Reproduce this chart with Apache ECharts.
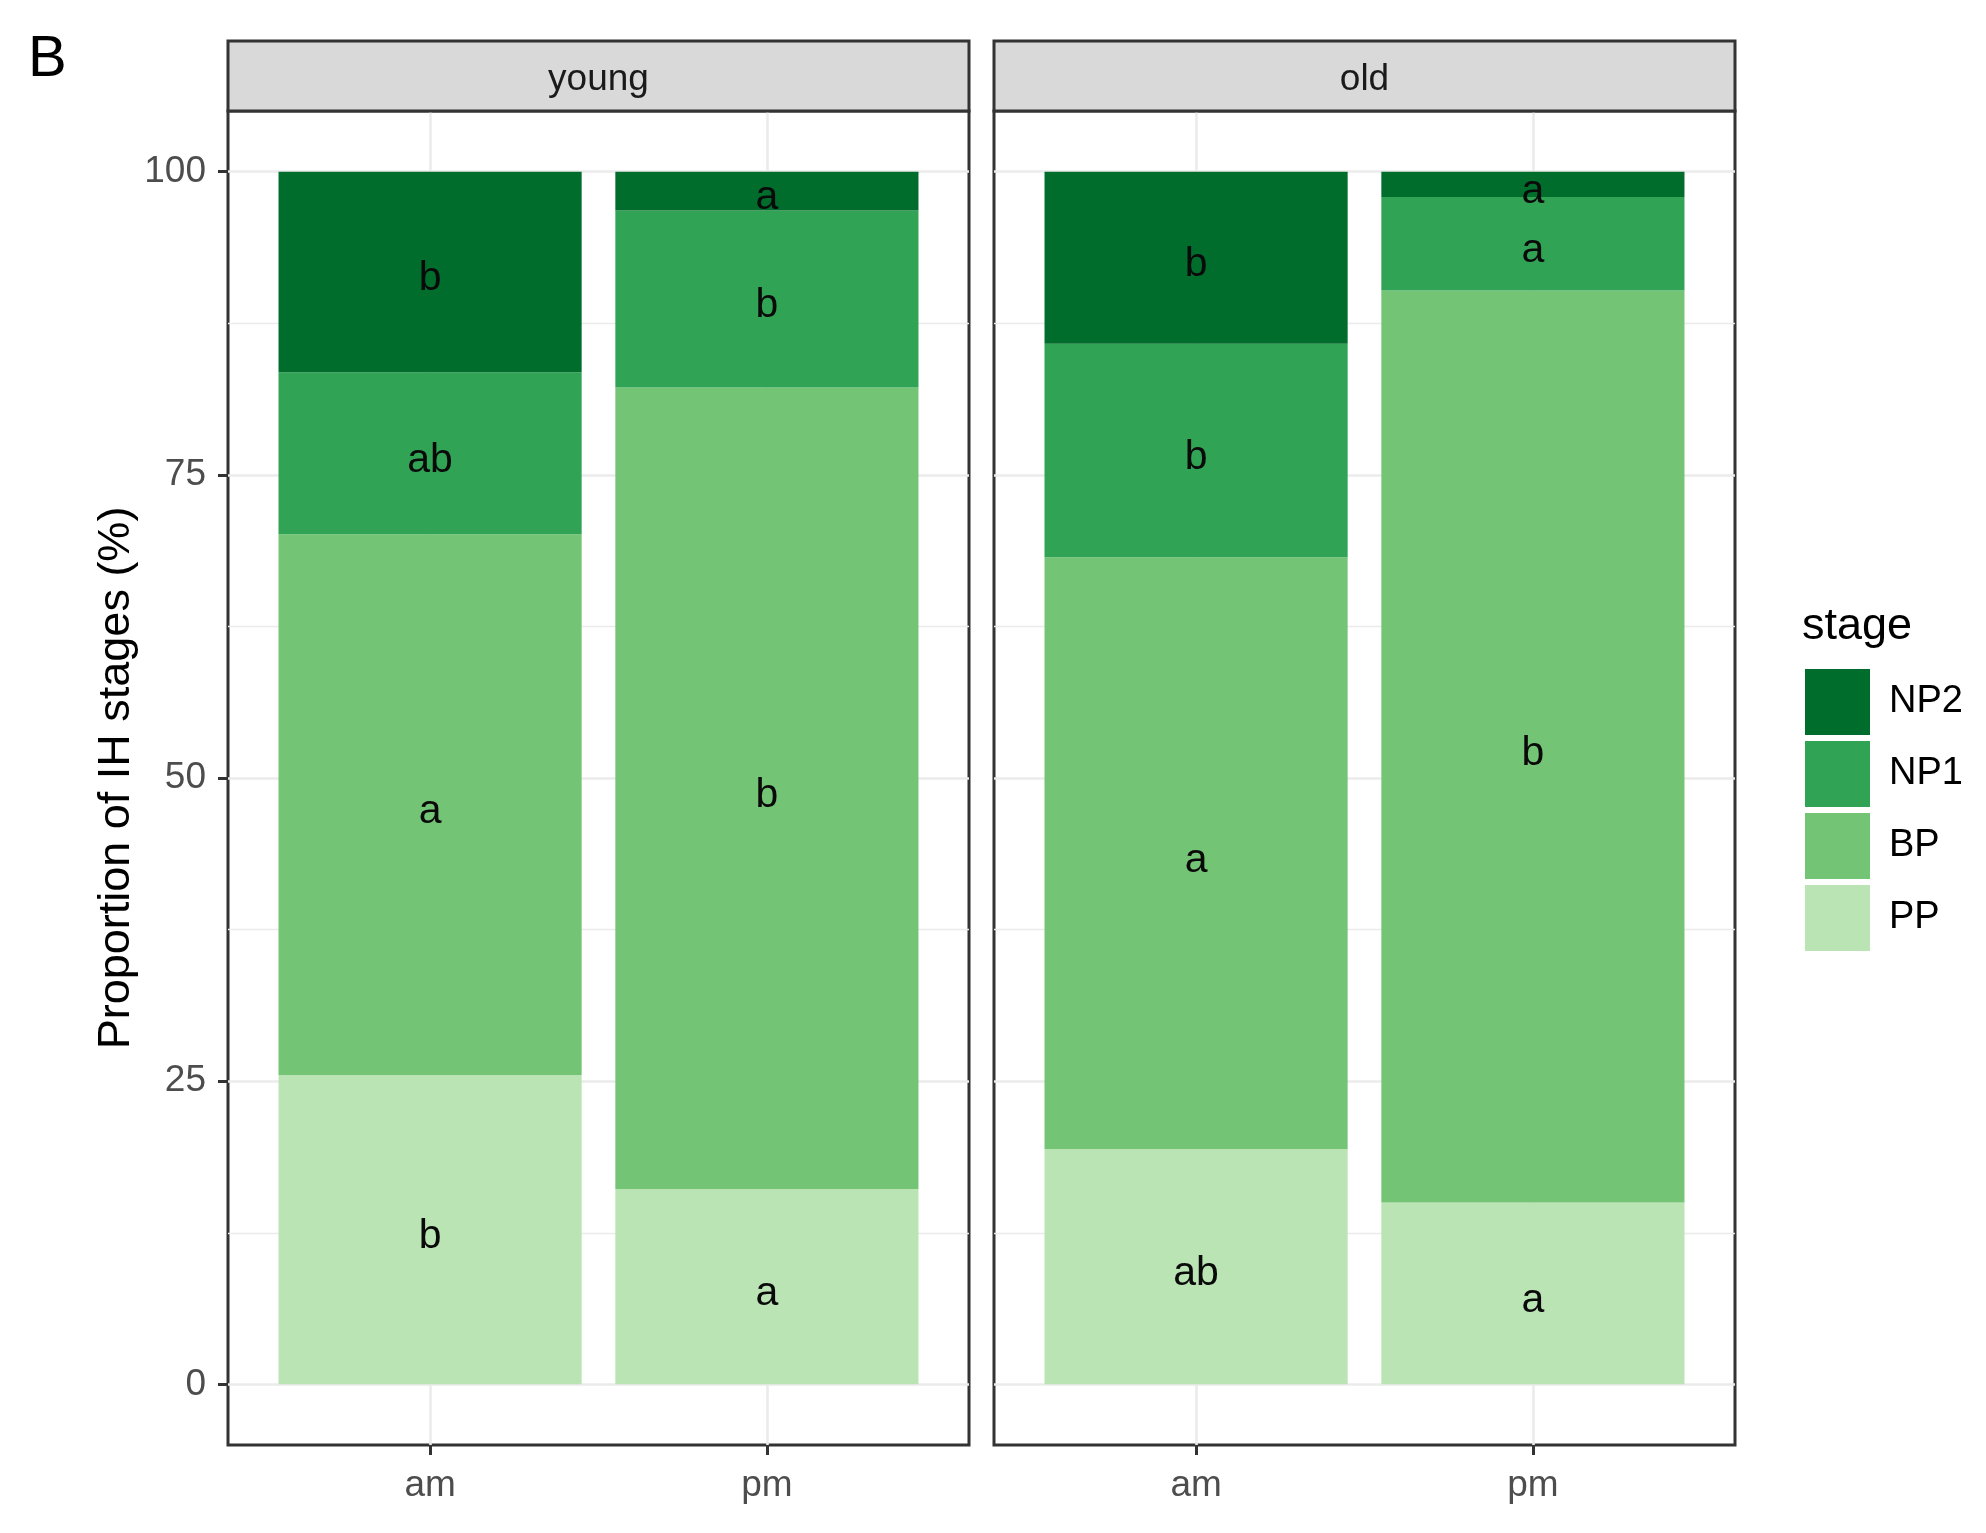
<!DOCTYPE html>
<html>
<head>
<meta charset="utf-8">
<script src="https://cdn.jsdelivr.net/npm/echarts@6/dist/echarts.min.js"></script>
<style>
html,body{margin:0;padding:0;background:#fff;}
#chart{width:1986px;height:1533px;}
</style>
</head>
<body>
<div id="chart"></div>
<script>
// ---- data ----
const categories = ['am', 'pm'];
const panels = ['young', 'old'];
const stages = ['PP', 'BP', 'NP1', 'NP2'];
const legendOrder = ['NP2', 'NP1', 'BP', 'PP'];
const stageColors = ['#bae4b3', '#74c476', '#31a354', '#006d2c'];

const young_PP  = [25.5, 16.1];
const young_BP  = [44.6, 66.1];
const young_NP1 = [13.35, 14.6];
const young_NP2 = [16.55, 3.2];
const old_PP  = [19.4, 15.0];
const old_BP  = [48.8, 75.2];
const old_NP1 = [17.6, 7.7];
const old_NP2 = [14.2, 2.1];

const young_PP_letters  = ['b', 'a'];
const young_BP_letters  = ['a', 'b'];
const young_NP1_letters = ['ab', 'b'];
const young_NP2_letters = ['b', 'a'];
const old_PP_letters  = ['ab', 'a'];
const old_BP_letters  = ['a', 'b'];
const old_NP1_letters = ['b', 'a'];
const old_NP2_letters = ['b', 'a'];

const yTicks = [0, 25, 50, 75, 100];
const yMinorTicks = [12.5, 37.5, 62.5, 87.5];

const panelValues = [
  [young_PP, young_BP, young_NP1, young_NP2],
  [old_PP, old_BP, old_NP1, old_NP2]
];
const panelLetters = [
  [young_PP_letters, young_BP_letters, young_NP1_letters, young_NP2_letters],
  [old_PP_letters, old_BP_letters, old_NP1_letters, old_NP2_letters]
];

// ---- layout ----
const FONT = '"Liberation Sans", Arial, sans-serif';
const gridLeft = [228, 994];
const gridW = 741, gridTop = 111, gridH = 1334;
// discrete axis expanded by 0.6 units on each side (ggplot style):
// use a fine category axis with slots every 0.2 units from 0.4 to 2.6
const slotStep = 0.2, xMin = 0.4, xMax = 2.6;
const nSlots = Math.round((xMax - xMin) / slotStep) + 1;
const catSlot = categories.map((c, i) => Math.round((i + 1 - xMin) / slotStep));
const axisData = [];
for (let k = 0; k < nSlots; k++) {
  const ci = catSlot.indexOf(k);
  axisData.push(ci >= 0 ? categories[ci] : '_' + k);
}
const isCat = (idx) => catSlot.indexOf(idx) >= 0;
const barW = 0.9 / (xMax - xMin) * gridW;

const chart = echarts.init(document.getElementById('chart'), null, {renderer: 'canvas'});

const grids = [], xAxes = [], yAxes = [], series = [], graphics = [];

panels.forEach((p, pi) => {
  grids.push({left: gridLeft[pi], top: gridTop, width: gridW, height: gridH,
    show: true, borderColor: '#333333', borderWidth: 3, backgroundColor: '#fff', containLabel: false});
  xAxes.push({
    type: 'category', gridIndex: pi, data: axisData, boundaryGap: false,
    axisLine: {show: false, onZero: false},
    splitLine: {show: true, interval: (idx) => isCat(idx), lineStyle: {color: '#ebebeb', width: 2.6}},
    axisTick: {show: true, interval: (idx) => isCat(idx), length: 10,
      lineStyle: {color: '#333333', width: 3}},
    axisLabel: {show: true, interval: (idx) => isCat(idx),
      formatter: v => (v.charAt(0) === '_' ? '' : v),
      fontSize: 37, color: '#4d4d4d', fontFamily: FONT, margin: 22}
  });
  yAxes.push({
    type: 'value', gridIndex: pi, min: -5, max: 105,
    axisLine: {show: false},
    splitLine: {show: false},
    axisTick: {show: pi === 0, customValues: yTicks, length: 10,
      lineStyle: {color: '#333333', width: 3}},
    axisLabel: {show: pi === 0, customValues: yTicks, fontSize: 37, color: '#4d4d4d',
      fontFamily: FONT, margin: 22}
  });
  // horizontal gridlines (behind bars)
  const mlData = [];
  yMinorTicks.forEach(v => mlData.push({yAxis: v, lineStyle: {color: '#ebebeb', width: 1.3, type: 'solid'}}));
  yTicks.forEach(v => mlData.push({yAxis: v, lineStyle: {color: '#ebebeb', width: 2.6, type: 'solid'}}));
  series.push({
    type: 'line', xAxisIndex: pi, yAxisIndex: pi, data: [], z: 0, silent: true,
    markLine: {silent: true, symbol: ['none', 'none'], label: {show: false},
      animation: false, data: mlData, z: 0}
  });
  stages.forEach((s, si) => {
    const d = axisData.map(() => '-');
    panelValues[pi][si].forEach((v, ci) => { d[catSlot[ci]] = v; });
    series.push({
      name: s, type: 'bar', stack: 'panel' + pi, xAxisIndex: pi, yAxisIndex: pi,
      barWidth: barW, z: 2,
      itemStyle: {color: stageColors[si]},
      label: {show: true, position: 'inside', offset: [0, 7], fontSize: 41, color: '#0a0a0a', fontFamily: FONT,
        formatter: prm => panelLetters[pi][si][catSlot.indexOf(prm.dataIndex)]},
      data: d
    });
  });
  // strip
  graphics.push({type: 'rect', shape: {x: gridLeft[pi], y: 41, width: gridW, height: 70},
    style: {fill: '#d9d9d9', stroke: '#333333', lineWidth: 3}, z: 10});
  graphics.push({type: 'text', x: gridLeft[pi] + gridW / 2, y: 80,
    style: {text: p, fontSize: 37, fontFamily: FONT, fill: '#1a1a1a', align: 'center', verticalAlign: 'middle'}, z: 11});
});

graphics.push({type: 'text', x: 28, y: 60,
  style: {text: 'B', fontSize: 58, fontFamily: FONT, fill: '#000', align: 'left', verticalAlign: 'middle'}});
graphics.push({type: 'text', x: 117, y: 778, rotation: Math.PI / 2,
  style: {text: 'Proportion of IH stages (%)', fontSize: 45, fontFamily: FONT, fill: '#000',
    align: 'center', verticalAlign: 'middle'}});
graphics.push({type: 'text', x: 1802, y: 627,
  style: {text: 'stage', fontSize: 45, fontFamily: FONT, fill: '#000', align: 'left', verticalAlign: 'middle'}});

chart.setOption({
  animation: false,
  grid: grids,
  xAxis: xAxes,
  yAxis: yAxes,
  legend: {
    data: legendOrder, orient: 'vertical', left: 1805, top: 669, padding: 0,
    itemWidth: 65, itemHeight: 66, itemGap: 6, icon: 'rect', selectedMode: false,
    textStyle: {fontSize: 38, fontFamily: FONT, color: '#000', padding: [0, 0, 0, 14]}
  },
  graphic: graphics,
  series: series
});
</script>
</body>
</html>
